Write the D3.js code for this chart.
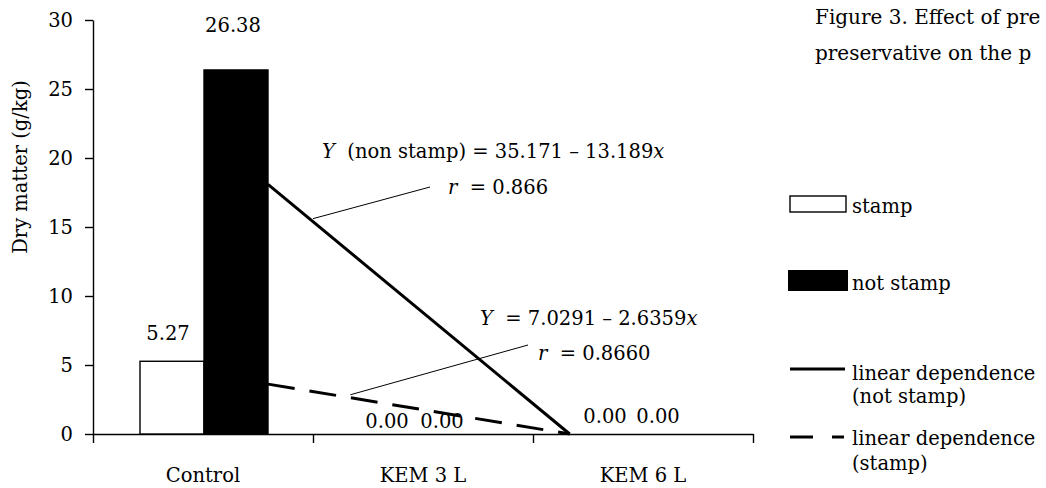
<!DOCTYPE html>
<html>
<head>
<meta charset="utf-8">
<script src="https://cdn.jsdelivr.net/npm/d3@7/dist/d3.min.js"></script>
<style>
  body { margin: 0; background: #fff; }
  svg { display: block; font-family: "DejaVu Serif", serif; }
</style>
</head>
<body>
<div id="chart"></div>
<script>
const categories = ['Control', 'KEM 3 L', 'KEM 6 L'];
const seriesNames = ['stamp', 'not stamp'];
const stampValues = [5.27, 0, 0];
const notStampValues = [26.38, 0, 0];
const yTicks = [0, 5, 10, 15, 20, 25, 30];
// linear fits Y = a - b*x, x = 1, 2, 3 for the categories
const fitNotStamp = { a: 35.171, b: 13.189, r: '0.866' };
const fitStamp = { a: 7.0291, b: 2.6359, r: '0.8660' };
const captionLines = ['Figure 3. Effect of pre', 'preservative on the p'];

const width = 1046;
const height = 488;
const fontSize = 19.5;

// hand nudges for the value labels (dx, dy from bar centre / bar top)
const labelNudge = {
  'stamp': [[-4, -21], [-5, -6], [-7, -11]],
  'not stamp': [[-3, -38], [-14, -6], [-18, -11]]
};

const x = d3.scaleLinear().domain([0.5, 3.5]).range([93, 753]);
const y = d3.scaleLinear().domain([0, 30]).range([434, 20]);
const xSeries = d3.scaleBand().domain(seriesNames).range([-63, 65]);

const svg = d3.select('#chart')
  .append('svg')
  .attr('width', width)
  .attr('height', height);

// y axis
const yAxis = svg.append('g')
  .attr('transform', `translate(${x(0.5)},0)`)
  .call(d3.axisLeft(y).tickValues(yTicks).tickSize(8).tickSizeOuter(0).tickPadding(12));
yAxis.select('.domain').attr('stroke', '#000').attr('stroke-width', 1.4);
yAxis.selectAll('line').attr('stroke', '#000').attr('stroke-width', 1.4);
yAxis.selectAll('text')
  .attr('fill', '#000')
  .style('font-size', fontSize + 'px')
  .style('font-family', '"DejaVu Serif", serif');

// x axis with ticks between categories
const xAxis = svg.append('g')
  .attr('transform', `translate(0,${y(0)})`)
  .call(d3.axisBottom(x).tickValues([0.5, 1.5, 2.5, 3.5]).tickSize(9).tickSizeOuter(0).tickFormat(''));
xAxis.select('.domain').attr('stroke', '#000').attr('stroke-width', 1.4);
xAxis.selectAll('line').attr('stroke', '#000').attr('stroke-width', 1.4);

svg.append('g')
  .selectAll('text')
  .data(categories)
  .join('text')
  .attr('x', (d, i) => x(i + 1))
  .attr('y', 482)
  .attr('text-anchor', 'middle')
  .style('font-size', fontSize + 'px')
  .text(d => d);

svg.append('text')
  .attr('transform', `translate(27,${(y(0) + y(30)) / 2 - 60}) rotate(-90)`)
  .attr('text-anchor', 'middle')
  .style('font-size', fontSize + 'px')
  .text('Dry matter (g/kg)');

// regression lines, drawn from the right edge of the Control bars to where they reach zero
const fitStart = x.invert(x(1) + xSeries('not stamp') + xSeries.bandwidth());
function fitPoints(fit) {
  return [[fitStart, fit.a - fit.b * fitStart], [fit.a / fit.b, 0]];
}
const fitLine = d3.line().x(d => x(d[0])).y(d => y(d[1]));

svg.append('path')
  .attr('d', fitLine(fitPoints(fitNotStamp)))
  .attr('fill', 'none')
  .attr('stroke', '#000')
  .attr('stroke-width', 3);

svg.append('path')
  .attr('d', fitLine(fitPoints(fitStamp)))
  .attr('fill', 'none')
  .attr('stroke', '#000')
  .attr('stroke-width', 3)
  .attr('stroke-dasharray', '27,15');

// bars
const barData = [];
categories.forEach((c, i) => {
  barData.push({ series: 'stamp', i, value: stampValues[i] });
  barData.push({ series: 'not stamp', i, value: notStampValues[i] });
});

svg.append('g')
  .selectAll('rect')
  .data(barData.filter(d => d.value > 0))
  .join('rect')
  .attr('x', d => x(d.i + 1) + xSeries(d.series))
  .attr('y', d => y(d.value))
  .attr('width', xSeries.bandwidth())
  .attr('height', d => y(0) - y(d.value))
  .attr('fill', d => d.series === 'stamp' ? '#fff' : '#000')
  .attr('stroke', '#000')
  .attr('stroke-width', 1.4);

svg.append('g')
  .selectAll('text')
  .data(barData)
  .join('text')
  .attr('x', d => x(d.i + 1) + xSeries(d.series) + xSeries.bandwidth() / 2 + labelNudge[d.series][d.i][0])
  .attr('y', d => y(d.value) + labelNudge[d.series][d.i][1])
  .attr('text-anchor', 'middle')
  .style('font-size', fontSize + 'px')
  .text(d => d.value.toFixed(2));

// equations with leader lines
function equation(fit, leaderX, endPt, eqPos, eqLabel, rPos) {
  const xs = leaderX;
  svg.append('line')
    .attr('x1', x(xs))
    .attr('y1', y(fit.a - fit.b * xs) - 3)
    .attr('x2', endPt[0])
    .attr('y2', endPt[1])
    .attr('stroke', '#000')
    .attr('stroke-width', 1);

  const t = svg.append('text')
    .attr('x', eqPos[0])
    .attr('y', eqPos[1])
    .style('font-size', fontSize + 'px');
  t.append('tspan').style('font-style', 'italic').text('Y');
  t.append('tspan').attr('xml:space', 'preserve').text(eqLabel + ' = ' + fit.a + ' \u2013 ' + fit.b);
  t.append('tspan').style('font-style', 'italic').text('x');

  const r = svg.append('text')
    .attr('x', rPos[0])
    .attr('y', rPos[1])
    .style('font-size', fontSize + 'px');
  r.append('tspan').style('font-style', 'italic').text('r');
  r.append('tspan').attr('xml:space', 'preserve').text('  = ' + fit.r);
}

equation(fitNotStamp, 1.5, [430, 187], [322, 158], '  (non stamp)', [448, 194]);
equation(fitStamp, 1.67, [528, 345], [480, 325], ' ', [538, 360]);

// legend
const legend = svg.append('g');
legend.append('rect')
  .attr('x', 790).attr('y', 196).attr('width', 56).attr('height', 16)
  .attr('fill', '#fff').attr('stroke', '#000').attr('stroke-width', 1.4);
legend.append('text').attr('x', 852).attr('y', 213).style('font-size', fontSize + 'px').text(seriesNames[0]);

legend.append('rect')
  .attr('x', 788).attr('y', 270).attr('width', 60).attr('height', 21)
  .attr('fill', '#000');
legend.append('text').attr('x', 852).attr('y', 290).style('font-size', fontSize + 'px').text(seriesNames[1]);

legend.append('line')
  .attr('x1', 790).attr('x2', 845).attr('y1', 369).attr('y2', 369)
  .attr('stroke', '#000').attr('stroke-width', 3);
legend.append('text').attr('x', 852).attr('y', 380).style('font-size', fontSize + 'px').text('linear dependence');
legend.append('text').attr('x', 852).attr('y', 403).style('font-size', fontSize + 'px').text('(not stamp)');

legend.append('line')
  .attr('x1', 790).attr('x2', 844).attr('y1', 437).attr('y2', 437)
  .attr('stroke', '#000').attr('stroke-width', 3).attr('stroke-dasharray', '23,19');
legend.append('text').attr('x', 852).attr('y', 445).style('font-size', fontSize + 'px').text('linear dependence');
legend.append('text').attr('x', 852).attr('y', 470).style('font-size', fontSize + 'px').text('(stamp)');

// caption, as far as the source figure shows it
svg.append('g')
  .selectAll('text')
  .data(captionLines)
  .join('text')
  .attr('x', 815)
  .attr('y', (d, i) => 24 + i * 36)
  .style('font-size', '20px')
  .text(d => d);
</script>
</body>
</html>
